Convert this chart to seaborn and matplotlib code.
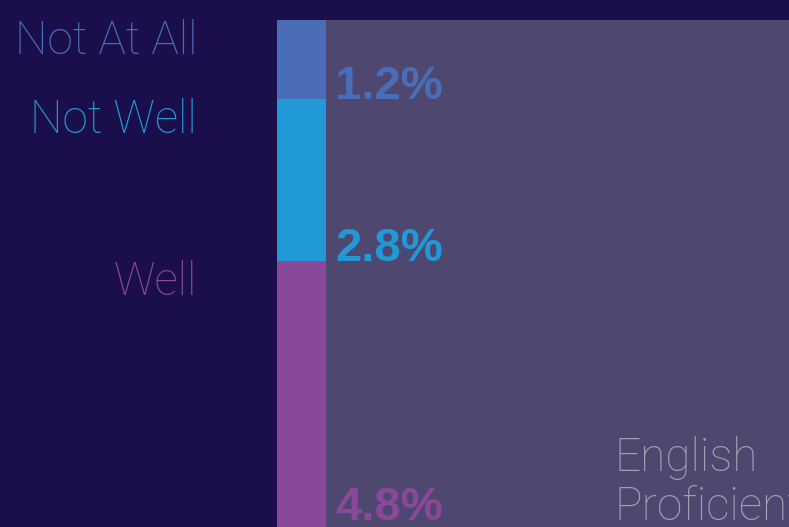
import numpy as np
import matplotlib.pyplot as plt
import matplotlib.transforms as mtransforms
import seaborn as sns

# English ability within the LEP column, top to bottom
levels = ['Not At All', 'Not Well', 'Well']
pct_labels = ['1.2%', '2.8%', '4.8%']
# segment heights as they appear in the picture (share units)
seg_heights = [1.2, 2.46, 4.8]
level_colors = ['#4a6db8', '#2199d6', '#8a4898']
rest_label = 'English\nProficient'

bg = '#1a0f4a'
panel = '#4e4770'

sns.set_theme(style='white')
plt.rcParams['font.family'] = ['Roboto', 'DejaVu Sans']

fig = plt.figure(figsize=(7.89, 5.27), dpi=100, facecolor=bg)
ax = fig.add_axes([277 / 789, 0, 512 / 789, 507 / 527])
ax.set_facecolor(panel)

ends = np.cumsum(seg_heights)
starts = ends - np.array(seg_heights)

# stacked column: draw cumulative totals, biggest first
for i in range(len(levels) - 1, -1, -1):
    sns.barplot(x=['LEP'], y=[ends[i]], color=level_colors[i], width=0.8,
                saturation=1, linewidth=0, ax=ax)

ymax = 7.7
ax.set_ylim(ymax, 0)
ax.set_xlim(-0.4, -0.4 + 0.8 * 512 / 49)
ax.set_xticks([])
ax.set_yticks([])
ax.set_xlabel('')
ax.set_ylabel('')
for s in ax.spines.values():
    s.set_visible(False)

blend = mtransforms.blended_transform_factory(ax.transAxes, ax.transData)

for i, lev in enumerate(levels):
    # category name on the left, top aligned with its segment
    ax.text(-0.156, starts[i] - 0.02, lev, transform=blend, ha='right',
            va='top', color=level_colors[i], fontsize=33, fontweight='light')
    # percentage next to the column, sitting on the segment's lower edge
    ax.text(0.547, min(ends[i], ymax - 0.1), pct_labels[i], ha='left',
            va='baseline', color=level_colors[i], fontsize=34,
            fontweight='bold', family=['Liberation Sans', 'DejaVu Sans'])

ax.text(0.66, ymax - 0.1, rest_label, transform=blend, ha='left',
        va='baseline', color='#a39eb0', fontsize=33, fontweight='light',
        linespacing=1.15)

fig.savefig('out.png', dpi=100, facecolor=bg)
